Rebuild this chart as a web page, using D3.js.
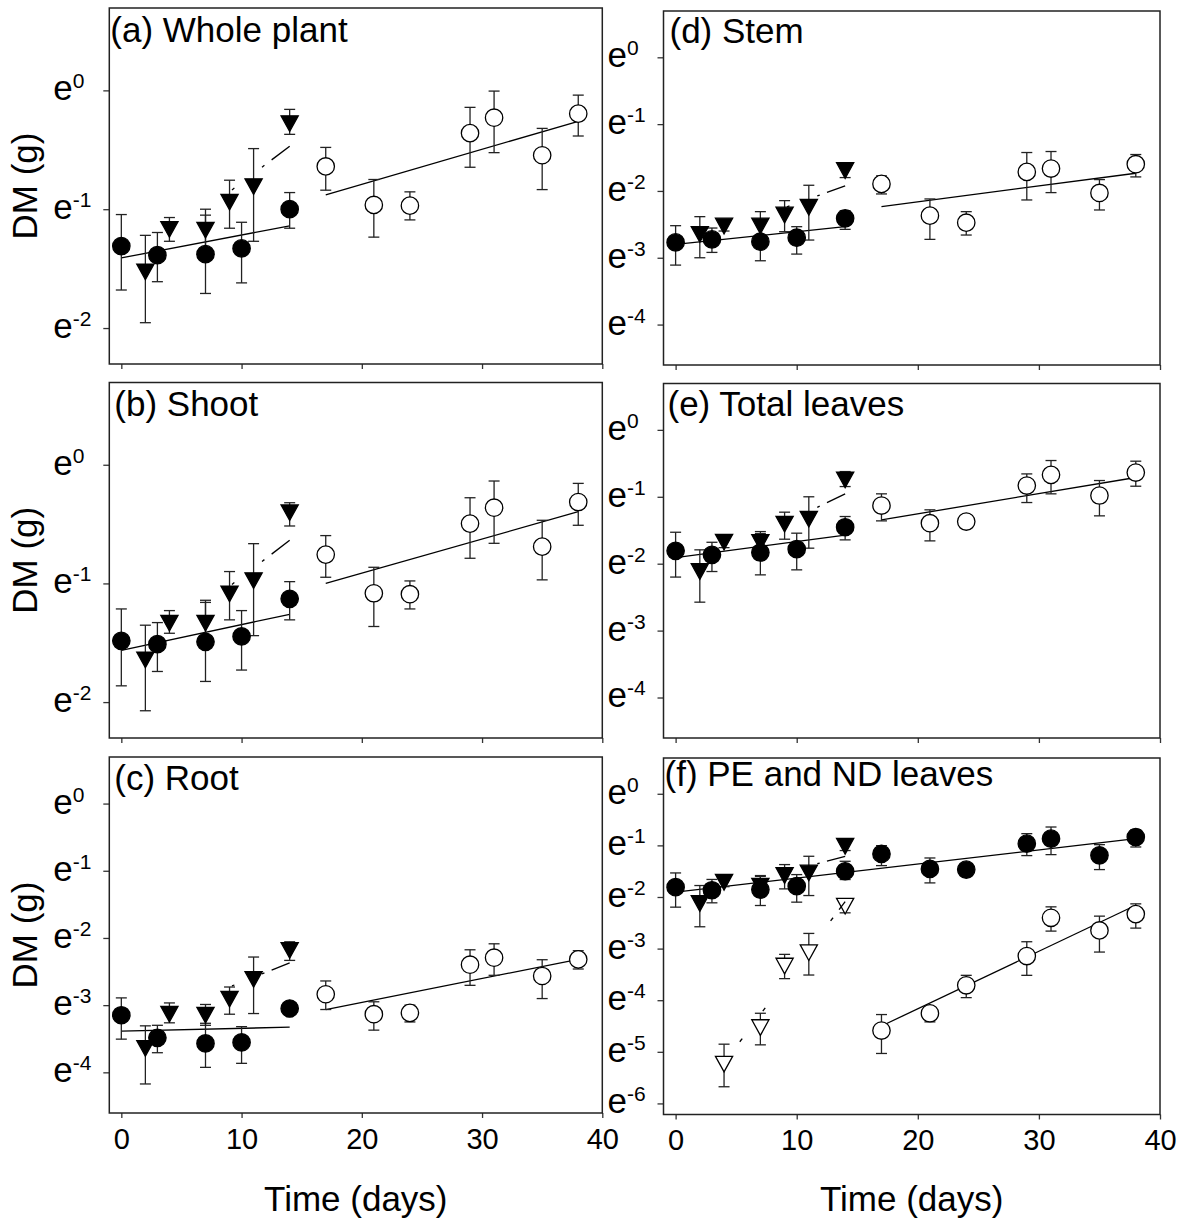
<!DOCTYPE html>
<html>
<head>
<meta charset="utf-8">
<script src="https://cdn.jsdelivr.net/npm/d3@7"></script>
<style>
  body { margin: 0; background: #fff; }
  svg { display: block; font-family: "Liberation Sans", Arial, sans-serif; }
</style>
</head>
<body>
<div id="chart"></div>
<script>
// figure size
const width = 1188
const height = 1228

// sampling days
const daysCirc = [0, 3, 7, 10, 14]
const daysTri = [2, 4, 7, 9, 11, 14]
const daysOpen = [17, 21, 24, 29, 31, 35, 38]
const daysAll = [0, 3, 7, 10, 14, 17, 21, 24, 29, 31, 35, 38]
const daysOpenTri = [4, 7, 9, 11, 14]
const xTicks = [0, 10, 20, 30, 40]

// all values are ln(DM, g)
// (a) whole plant
const aCirc = [-1.31, -1.387, -1.378, -1.33, -1.0]
const aCircLo = [-1.68, -1.61, -1.709, -1.62, -1.16]
const aCircHi = [-1.045, -1.196, -1.05, -1.11, -0.86]
const aTri = [-1.527, -1.17, -1.176, -0.94, -0.81, -0.28]
const aTriLo = [-1.955, -1.27, -1.35, -1.16, -1.27, -0.37]
const aTriHi = [-1.22, -1.07, -1.0, -0.756, -0.49, -0.16]
const aOpen = [-0.64, -0.964, -0.97, -0.36, -0.23, -0.546, -0.196]
const aOpenLo = [-0.84, -1.235, -1.09, -0.647, -0.524, -0.835, -0.384]
const aOpenHi = [-0.48, -0.75, -0.854, -0.143, -0.006, -0.32, -0.04]
const aFitCirc = [[0, -1.41], [14, -1.14]]
const aFitOpen = [[17, -0.88], [38, -0.26]]
const aFitTri = [[9.3, -0.83], [14, -0.47]]

// (b) shoot
const bCirc = [-1.484, -1.512, -1.492, -1.447, -1.13]
const bCircLo = [-1.863, -1.742, -1.826, -1.73, -1.307]
const bCircHi = [-1.215, -1.33, -1.16, -1.229, -0.985]
const bTri = [-1.644, -1.335, -1.335, -1.088, -0.976, -0.404]
const bTriLo = [-2.073, -1.42, -1.53, -1.307, -1.44, -0.516]
const bTriHi = [-1.352, -1.229, -1.142, -0.9, -0.665, -0.32]
const bOpen = [-0.757, -1.083, -1.091, -0.496, -0.362, -0.69, -0.314]
const bOpenLo = [-0.948, -1.363, -1.215, -0.788, -0.662, -0.97, -0.51]
const bOpenHi = [-0.597, -0.864, -0.979, -0.278, -0.137, -0.468, -0.157]
const bFitCirc = [[0, -1.565], [14, -1.26]]
const bFitOpen = [[17, -0.999], [38, -0.396]]
const bFitTri = [[9.5, -0.985], [14, -0.637]]

// (c) root
const cCirc = [-3.15, -3.486, -3.57, -3.555, -3.05]
const cCircLo = [-3.506, -3.708, -3.926, -3.866, -3.1]
const cCircHi = [-2.892, -3.3, -3.27, -3.32, -3.0]
const cTri = [-3.644, -3.135, -3.15, -2.91, -2.616, -2.185]
const cTriLo = [-4.173, -3.263, -3.3, -3.135, -3.125, -2.334]
const cTriHi = [-3.308, -2.967, -2.99, -2.73, -2.284, -2.057]
const cOpen = [-2.838, -3.135, -3.115, -2.398, -2.294, -2.566, -2.319]
const cOpenLo = [-3.065, -3.372, -3.25, -2.705, -2.556, -2.902, -2.462]
const cOpenHi = [-2.64, -2.95, -3.0, -2.176, -2.087, -2.324, -2.19]
const cFitCirc = [[0, -3.387], [14, -3.328]]
const cFitOpen = [[17, -3.066], [38, -2.319]]
const cFitTri = [[9.4, -2.7], [14, -2.37]]

// (d) stem
const dCirc = [-2.77, -2.725, -2.76, -2.7, -2.41]
const dCircLo = [-3.11, -2.92, -3.045, -2.945, -2.575]
const dCircHi = [-2.52, -2.555, -2.48, -2.535, -2.295]
const dTri = [-2.65, -2.525, -2.525, -2.36, -2.245, -1.695]
const dTriLo = [-3.0, -2.6, -2.74, -2.61, -2.735, -1.8]
const dTriHi = [-2.385, -2.435, -2.31, -2.145, -1.915, -1.62]
const dOpen = [-1.895, -2.37, -2.475, -1.715, -1.665, -2.03, -1.6]
const dOpenLo = [-2.045, -2.725, -2.66, -2.135, -2.025, -2.285, -1.79]
const dOpenHi = [-1.775, -2.12, -2.31, -1.425, -1.41, -1.83, -1.455]
const dFitCirc = [[0, -2.8], [14, -2.535]]
const dFitOpen = [[17, -2.235], [38, -1.735]]
const dFitTri = [[9.4, -2.225], [14, -1.925]]

// (e) total leaves
const eCirc = [-1.808, -1.868, -1.833, -1.783, -1.455]
const eCircLo = [-2.2, -2.117, -2.167, -2.092, -1.644]
const eCircHi = [-1.53, -1.68, -1.55, -1.544, -1.295]
const eTri = [-2.117, -1.679, -1.684, -1.41, -1.335, -0.747]
const eTriLo = [-2.575, -1.76, -1.85, -1.634, -1.768, -0.847]
const eTriHi = [-1.793, -1.594, -1.52, -1.23, -1.0, -0.623]
const eOpen = [-1.131, -1.395, -1.37, -0.832, -0.672, -0.981, -0.638]
const eOpenLo = [-1.36, -1.659, -1.47, -1.086, -0.956, -1.285, -0.842]
const eOpenHi = [-0.956, -1.195, -1.27, -0.658, -0.458, -0.757, -0.468]
const eFitCirc = [[0, -1.908], [14, -1.574]]
const eFitOpen = [[17, -1.345], [38, -0.712]]
const eFitTri = [[9.4, -1.36], [14, -0.956]]

// (f) PE and ND leaves
const fCirc = [-1.81, -1.869, -1.856, -1.791, -1.501, -1.166, -1.456, -1.469, -0.966, -0.87, -1.192, -0.838]
const fCircLo = [-2.197, -2.113, -2.165, -2.1, -1.662, -1.392, -1.727, -1.56, -1.198, -1.179, -1.469, -1.031]
const fCircHi = [-1.534, -1.66, -1.585, -1.566, -1.308, -1.005, -1.244, -1.38, -0.773, -0.644, -0.986, -0.696]
const fTri = [-2.126, -1.714, -1.791, -1.585, -1.534, -1.018]
const fTriLo = [-2.577, -1.8, -1.95, -1.843, -1.972, -1.1]
const fTriHi = [-1.778, -1.66, -1.6, -1.372, -1.211, -0.902]
const fOpenTri = [-5.238, -4.53, -3.338, -3.08, -2.178]
const fOpenTriLo = [-5.677, -4.865, -3.582, -3.512, -2.307]
const fOpenTriHi = [-4.852, -4.253, -3.112, -2.706, -2.062]
const fOpen = [-4.588, -4.253, -3.711, -3.144, -2.403, -2.648, -2.332]
const fOpenLo = [-5.032, -4.42, -3.95, -3.518, -2.661, -3.067, -2.603]
const fOpenHi = [-4.278, -4.124, -3.518, -2.867, -2.191, -2.371, -2.133]
const fFitCirc = [[0, -1.907], [38, -0.87]]
const fFitOpen = [[17, -4.5], [38, -2.16]]
const fFitTri = [[9.4, -1.5], [14, -1.211]]
const fFitOpenTri = [[5.4, -4.774], [14, -2.09]]

// visible bits of the sparse dash-dot trend lines (days)
const triDashes = [[9.2, 9.4], [11.7, 11.9], [12.5, 14]]
const openTriDashes = [[5.3, 5.5], [7.2, 7.4], [12.8, 13.0], [13.5, 14]]

const titles = ["(a) Whole plant", "(b) Shoot", "(c) Root", "(d) Stem", "(e) Total leaves", "(f) PE and ND leaves"]

function series(kind, filled, days, mean, lo, hi) {
    return { kind, filled, points: days.map((d, i) => ({ day: d, v: mean[i], lo: lo[i], hi: hi[i] })) }
}

// panel layout
const panels = [
    { title: titles[0], x0: 109.3, x1: 602.3, y0: 8, y1: 364, lnMin: Math.log(0.1), yTicks: [0, -1, -2], tdx: 1, tdy: 34, ylab: true, xlab: false,
      series: [series("tri", true, daysTri, aTri, aTriLo, aTriHi), series("circle", true, daysCirc, aCirc, aCircLo, aCircHi), series("circle", false, daysOpen, aOpen, aOpenLo, aOpenHi)],
      fits: [aFitCirc, aFitOpen], trends: [[aFitTri, triDashes]] },
    { title: titles[1], x0: 109.3, x1: 602.3, y0: 382.5, y1: 738, lnMin: Math.log(0.1), yTicks: [0, -1, -2], tdx: 5, tdy: 33, ylab: true, xlab: false,
      series: [series("tri", true, daysTri, bTri, bTriLo, bTriHi), series("circle", true, daysCirc, bCirc, bCircLo, bCircHi), series("circle", false, daysOpen, bOpen, bOpenLo, bOpenHi)],
      fits: [bFitCirc, bFitOpen], trends: [[bFitTri, triDashes]] },
    { title: titles[2], x0: 109.3, x1: 602.3, y0: 757, y1: 1113, lnMin: Math.log(0.01), yTicks: [0, -1, -2, -3, -4], tdx: 5, tdy: 33, ylab: true, xlab: true,
      series: [series("tri", true, daysTri, cTri, cTriLo, cTriHi), series("circle", true, daysCirc, cCirc, cCircLo, cCircHi), series("circle", false, daysOpen, cOpen, cOpenLo, cOpenHi)],
      fits: [cFitCirc, cFitOpen], trends: [[cFitTri, triDashes]] },
    { title: titles[3], x0: 663.5, x1: 1160, y0: 11, y1: 365, lnMin: Math.log(0.01), yTicks: [0, -1, -2, -3, -4], tdx: 6, tdy: 32, ylab: false, xlab: false,
      series: [series("tri", true, daysTri, dTri, dTriLo, dTriHi), series("circle", true, daysCirc, dCirc, dCircLo, dCircHi), series("circle", false, daysOpen, dOpen, dOpenLo, dOpenHi)],
      fits: [dFitCirc, dFitOpen], trends: [[dFitTri, triDashes]] },
    { title: titles[4], x0: 663.5, x1: 1160, y0: 383.5, y1: 738, lnMin: Math.log(0.01), yTicks: [0, -1, -2, -3, -4], tdx: 4, tdy: 32, ylab: false, xlab: false,
      series: [series("tri", true, daysTri, eTri, eTriLo, eTriHi), series("circle", true, daysCirc, eCirc, eCircLo, eCircHi), series("circle", false, daysOpen, eOpen, eOpenLo, eOpenHi)],
      fits: [eFitCirc, eFitOpen], trends: [[eFitTri, triDashes]] },
    { title: titles[5], x0: 663.5, x1: 1160, y0: 758, y1: 1114.5, lnMin: Math.log(0.002), yTicks: [0, -1, -2, -3, -4, -5, -6], tdx: 1, tdy: 28, ylab: false, xlab: true,
      series: [series("tri", true, daysTri, fTri, fTriLo, fTriHi), series("tri", false, daysOpenTri, fOpenTri, fOpenTriLo, fOpenTriHi),
               series("circle", true, daysAll, fCirc, fCircLo, fCircHi), series("circle", false, daysOpen, fOpen, fOpenLo, fOpenHi)],
      fits: [fFitCirc, fFitOpen], trends: [[fFitTri, triDashes], [fFitOpenTri, openTriDashes]] }
]

const svg = d3.select("#chart")
  .append("svg")
    .attr("width", width)
    .attr("height", height)

panels.forEach(drawPanel)

// shared x axis titles
svg.append("text")
    .attr("x", (109.3 + 602.3) / 2).attr("y", 1211)
    .attr("text-anchor", "middle").style("font-size", "35px")
    .text("Time (days)")
svg.append("text")
    .attr("x", (663.5 + 1160) / 2).attr("y", 1211)
    .attr("text-anchor", "middle").style("font-size", "35px")
    .text("Time (days)")

function drawPanel(p) {
    const x = d3.scaleLinear().domain([-1, 40]).range([p.x0, p.x1])
    const y = d3.scaleLinear().domain([p.lnMin, Math.log(2)]).range([p.y1, p.y0])
    const g = svg.append("g")

    // x axis ticks (labels only on the bottom row)
    const xa = g.append("g")
        .attr("transform", `translate(0,${p.y1})`)
        .call(d3.axisBottom(x).tickValues(xTicks).tickSize(5).tickPadding(10)
            .tickFormat(p.xlab ? d3.format("d") : () => ""))
    xa.select(".domain").remove()
    xa.selectAll(".tick line").attr("stroke", "#333").attr("stroke-width", 1.3)
    xa.selectAll(".tick text").attr("fill", "#000").style("font-size", "29px")
        .style("font-family", "'Liberation Sans', Arial, sans-serif")

    // y axis with e^n labels, left aligned like the original
    const ya = g.append("g")
        .attr("transform", `translate(${p.x0},0)`)
        .call(d3.axisLeft(y).tickValues(p.yTicks).tickSize(6).tickFormat(() => "e"))
    ya.select(".domain").remove()
    ya.selectAll(".tick line").attr("stroke", "#333").attr("stroke-width", 1.3)
    ya.selectAll(".tick text")
        .attr("fill", "#000")
        .attr("x", -56)
        .attr("text-anchor", "start")
        .attr("dy", "0.27em")
        .style("font-size", "35px")
        .style("font-family", "'Liberation Sans', Arial, sans-serif")
      .append("tspan")
        .attr("dy", -12)
        .style("font-size", "21px")
        .text(d => d)

    // frame
    g.append("rect")
        .attr("x", p.x0).attr("y", p.y0)
        .attr("width", p.x1 - p.x0).attr("height", p.y1 - p.y0)
        .attr("fill", "none").attr("stroke", "#222").attr("stroke-width", 1.5)

    // regression lines
    const line = d3.line().x(d => x(d[0])).y(d => y(d[1]))
    p.fits.forEach(f => {
        g.append("path").attr("d", line(f))
            .attr("fill", "none").attr("stroke", "#000").attr("stroke-width", 1.3)
    })

    // error bars
    const cap = 5.5
    p.series.forEach(s => {
        const eb = g.append("g").attr("stroke", "#222").attr("stroke-width", 1.3)
        eb.selectAll("line.v").data(s.points).join("line")
            .attr("x1", d => x(d.day)).attr("x2", d => x(d.day))
            .attr("y1", d => y(d.lo)).attr("y2", d => y(d.hi))
        eb.selectAll("line.lo").data(s.points).join("line")
            .attr("x1", d => x(d.day) - cap).attr("x2", d => x(d.day) + cap)
            .attr("y1", d => y(d.lo)).attr("y2", d => y(d.lo))
        eb.selectAll("line.hi").data(s.points).join("line")
            .attr("x1", d => x(d.day) - cap).attr("x2", d => x(d.day) + cap)
            .attr("y1", d => y(d.hi)).attr("y2", d => y(d.hi))
    })

    // markers
    p.series.forEach(s => {
        const fill = s.filled ? "#000" : "#fff"
        if (s.kind === "circle") {
            g.append("g").selectAll("circle").data(s.points).join("circle")
                .attr("cx", d => x(d.day)).attr("cy", d => y(d.v))
                .attr("r", 8.7)
                .attr("fill", fill).attr("stroke", "#000").attr("stroke-width", 1.3)
        } else {
            const hw = 8.6, hh = 7.8
            g.append("g").selectAll("path").data(s.points).join("path")
                .attr("d", d => {
                    const cx = x(d.day), cy = y(d.v)
                    return `M${cx - hw},${cy - hh}L${cx + hw},${cy - hh}L${cx},${cy + hh}Z`
                })
                .attr("fill", fill).attr("stroke", "#000").attr("stroke-width", 1.3)
        }
    })

    // sparse dash-dot trend lines for the triangles
    p.trends.forEach(([f, pieces]) => {
        const at = d => f[0][1] + (f[1][1] - f[0][1]) * (d - f[0][0]) / (f[1][0] - f[0][0])
        g.append("g").selectAll("line").data(pieces).join("line")
            .attr("x1", d => x(d[0])).attr("y1", d => y(at(d[0])))
            .attr("x2", d => x(d[1])).attr("y2", d => y(at(d[1])))
            .attr("stroke", "#000").attr("stroke-width", 1.3)
    })

    // panel title
    g.append("text")
        .attr("x", p.x0 + p.tdx).attr("y", p.y0 + p.tdy)
        .style("font-size", "35px")
        .text(p.title)

    // y axis title
    if (p.ylab) {
        g.append("text")
            .attr("transform", `translate(37,${(p.y0 + p.y1) / 2}) rotate(-90)`)
            .attr("text-anchor", "middle")
            .style("font-size", "35px")
            .text("DM (g)")
    }
}
</script>
</body>
</html>
